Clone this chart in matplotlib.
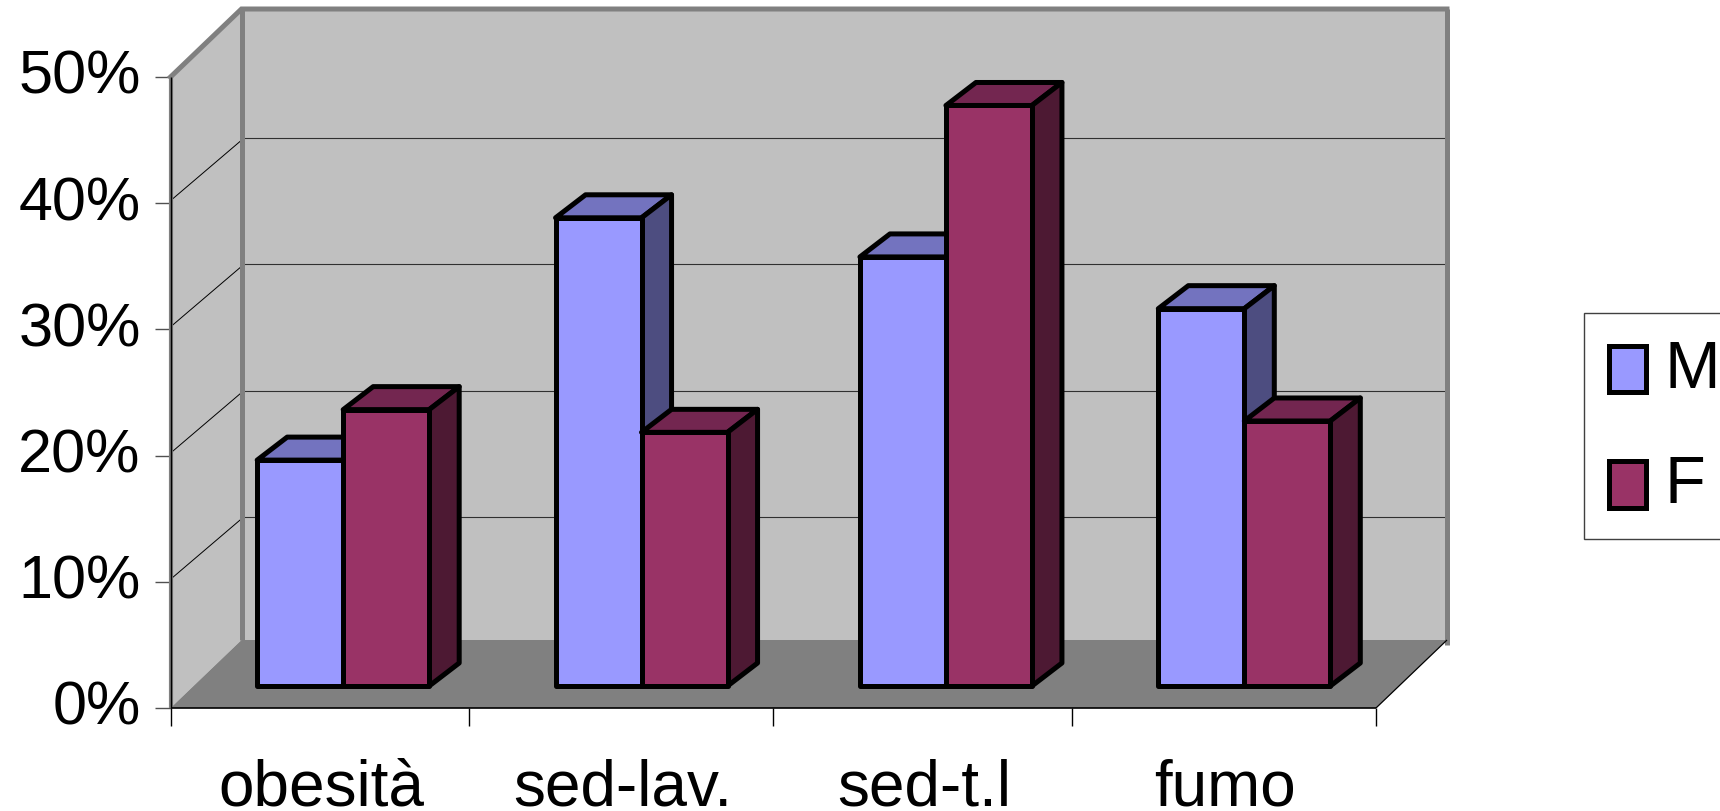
import matplotlib
matplotlib.use("Agg")
import matplotlib.pyplot as plt
from matplotlib.patches import Polygon, Patch, Rectangle
from matplotlib.legend_handler import HandlerPatch
from matplotlib.transforms import ScaledTranslation

plt.rcParams["font.family"] = ["Liberation Sans", "DejaVu Sans"]

categories = ["obesità", "sed-lav.", "sed-t.l", "fumo"]
series_names = ["M", "F"]
valori_m = [17.9, 37.1, 34.0, 29.9]
valori_f = [21.9, 20.1, 46.0, 21.0]
y_ticks = [0, 10, 20, 30, 40, 50]
y_labels = ["0%", "10%", "20%", "30%", "40%", "50%"]

W, H = 1720, 812
# front plane of the chart, pixels
X0, X1, Y0, Y1 = 170.5, 1376, 709, 78
px_x = 4 / (X1 - X0)
px_y = 50 / (Y0 - Y1)

# oblique offsets, in data units
WALL_DX, WALL_DY = 71 * px_x, 68 * px_y
GRID_DY = 65 * px_y
BAR_OFF_X, BAR_OFF_Y = 22 * px_x, 22 * px_y
BAR_DX, BAR_DY = 30 * px_x, 23 * px_y
BAR_W = 86 * px_x

# the original's tick spacing is slightly uneven
x_edges = [0, 0.99, 2, 2.99, 4]
x_centers = [0.5, 1.49, 2.5, 3.49]

GREY_WALL = "#C0C0C0"
GREY_LINE = "#808080"
col_m = ("#9999FF", "#7373BF", "#4D4D80")
col_f = ("#993366", "#732650", "#4D1933")
BAR_LW = 3.6

fig = plt.figure(figsize=(W / 100, H / 100), dpi=100)
ax = fig.add_axes([X0 / W, 1 - Y0 / H, (X1 - X0) / W, (Y0 - Y1) / H])
ax.set_xlim(0, 4)
ax.set_ylim(0, 50)
for s in ax.spines.values():
    s.set_visible(False)
ax.patch.set_visible(False)


def poly(pts, face, edge="none", lw=0, z=1):
    ax.add_patch(Polygon(pts, closed=True, facecolor=face, edgecolor=edge, linewidth=lw,
                         joinstyle="round", clip_on=False, zorder=z))


def line(xs, ys, color="black", lw=0.8, z=2):
    ax.plot(xs, ys, color=color, lw=lw, clip_on=False, zorder=z, solid_capstyle="butt")


# walls and floor
poly([(WALL_DX, WALL_DY), (4 + WALL_DX, WALL_DY), (4 + WALL_DX, 50 + WALL_DY), (WALL_DX, 50 + WALL_DY)], GREY_WALL)
poly([(0, 0), (WALL_DX, WALL_DY), (WALL_DX, 50 + WALL_DY), (0, 50)], GREY_WALL)
for v in y_ticks[1:-1]:
    line([0, WALL_DX], [v + 2.5 * px_y, v + GRID_DY - 2 * px_y], lw=0.7)
    line([WALL_DX, 4 + WALL_DX], [v + GRID_DY, v + GRID_DY], lw=0.8, color="#303030")
poly([(0, 0), (4, 0), (4 + WALL_DX, WALL_DY), (WALL_DX, WALL_DY)], GREY_LINE, z=3)

# wall borders
line([WALL_DX, WALL_DX], [WALL_DY, 50 + WALL_DY], GREY_LINE, 3.6, 3)
line([4 + WALL_DX, 4 + WALL_DX], [WALL_DY - 0.4, 50 + WALL_DY], GREY_LINE, 3.6, 3)
ax.plot([0, WALL_DX, 4 + WALL_DX], [50, 50 + WALL_DY, 50 + WALL_DY], color=GREY_LINE, lw=3.6,
        clip_on=False, zorder=3, solid_joinstyle="miter", solid_capstyle="projecting")
line([0, 0], [0, 50], GREY_LINE, 3.0, 3)
line([0, 0], [0, 50], "black", 1.0, 4)
line([0, 4], [0, 0], "black", 1.2, 4)
line([4, 4 + WALL_DX], [0, WALL_DY], "black", 0.9, 4)


def draw_bar(x, v, cols, z):
    front, top, side = cols
    xa = x + BAR_OFF_X
    xb = xa + BAR_W
    y0 = BAR_OFF_Y
    yt = v + BAR_OFF_Y
    edge = dict(edge="black", lw=BAR_LW, z=z)
    poly([(xa, yt), (xb, yt), (xb + BAR_DX, yt + BAR_DY), (xa + BAR_DX, yt + BAR_DY)], top, **edge)
    poly([(xb, y0), (xb + BAR_DX, y0 + BAR_DY), (xb + BAR_DX, yt + BAR_DY), (xb, yt)], side, **edge)
    poly([(xa, y0), (xb, y0), (xb, yt), (xa, yt)], front, **edge)


for i in range(len(categories)):
    c = x_centers[i]
    draw_bar(c - BAR_W, valori_m[i], col_m, 5 + i)
    draw_bar(c, valori_f[i], col_f, 5.5 + i)

# axes ticks
ax.set_yticks(y_ticks)
ax.set_yticklabels(y_labels)
ax.set_xticks(x_edges)
ax.set_xticklabels([])
ax.set_xticks([i + 0.5 for i in range(4)], minor=True)
ax.set_xticklabels(categories, minor=True)
ax.tick_params(axis="y", length=11.5, width=1.0, color="#505050", pad=10, labelsize=44)
ax.tick_params(axis="x", which="major", length=13, width=1.0, color="black")
ax.tick_params(axis="x", which="minor", length=0, pad=36, labelsize=46)
up = ScaledTranslation(0, 6 / 100, fig.dpi_scale_trans)
for lbl in ax.get_yticklabels():
    lbl.set_transform(lbl.get_transform() + up)

# legend box runs off the right edge like the original
fig.add_artist(Rectangle((1584 / W, 1 - 540 / H), 160 / W, 226 / H, transform=fig.transFigure,
                         facecolor="white", edgecolor="#404040", linewidth=1.0))
handles = [Patch(facecolor=col_m[0], edgecolor="black", linewidth=BAR_LW, label=series_names[0]),
           Patch(facecolor=col_f[0], edgecolor="black", linewidth=BAR_LW, label=series_names[1])]
leg = fig.legend(handles=handles, loc="upper left", bbox_to_anchor=(1609 / W, 1 - 340 / H),
                 fontsize=48, frameon=False, handlelength=0.55, handleheight=0.42,
                 handletextpad=0.28, labelspacing=0.8, borderpad=0, borderaxespad=0,
                 handler_map={Patch: HandlerPatch(ypad=-0.18)})

fig.savefig("out.png", dpi=100)
